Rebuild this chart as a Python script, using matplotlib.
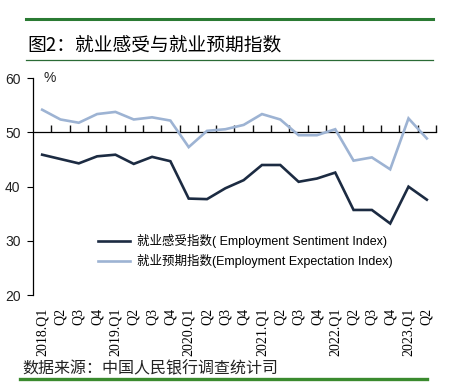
import matplotlib
matplotlib.use('Agg')
import matplotlib.pyplot as plt
from matplotlib.lines import Line2D
import numpy as np

plt.rcParams['font.family'] = ['Liberation Sans', 'Noto Sans CJK SC', 'DejaVu Sans']
plt.rcParams['axes.unicode_minus'] = False

# 数据
quarters = ['2018.Q1', 'Q2', 'Q3', 'Q4', '2019.Q1', 'Q2', 'Q3', 'Q4',
            '2020.Q1', 'Q2', 'Q3', 'Q4', '2021.Q1', 'Q2', 'Q3', 'Q4',
            '2022.Q1', 'Q2', 'Q3', 'Q4', '2023.Q1', 'Q2']
sentiment = [45.9, 45.1, 44.3, 45.6, 45.9, 44.2, 45.5, 44.7,
             37.8, 37.7, 39.7, 41.2, 44.0, 44.0, 40.9, 41.5,
             42.6, 35.7, 35.7, 33.2, 40.0, 37.6]
expectation = [54.2, 52.4, 51.8, 53.4, 53.8, 52.4, 52.8, 52.2,
               47.3, 50.3, 50.6, 51.4, 53.4, 52.4, 49.5, 49.5,
               50.6, 44.8, 45.4, 43.2, 52.6, 48.9]
yticks = [20, 30, 40, 50, 60]

label_s = '就业感受指数( Employment Sentiment Index)'
label_e = '就业预期指数(Employment Expectation Index)'

fig = plt.figure(figsize=(4.49, 3.82), dpi=100)
ax = fig.add_axes([0.0735, 0.2277, 0.8975, 0.5673])

x = np.arange(len(quarters))
ax.plot(x, sentiment, color='#1c2b42', lw=1.9, label=label_s, solid_joinstyle='miter')
ax.plot(x, expectation, color='#9db3d3', lw=1.9, label=label_e, solid_joinstyle='miter')

ax.set_xlim(-0.5, len(quarters) - 0.5)
ax.set_ylim(20, 60)
ax.set_yticks(yticks)
ax.tick_params(axis='y', direction='out', length=4, width=0.8, pad=5,
               labelsize=10, labelcolor='#222222')

ax.set_xticks(x)
ax.set_xticklabels(quarters, rotation=90, family='Liberation Serif', fontsize=10)
ax.tick_params(axis='x', length=0, pad=9)

for s in ['top', 'right', 'bottom']:
    ax.spines[s].set_visible(False)
ax.spines['left'].set_linewidth(0.9)

# 50 处的横轴, 刻度朝上
sec = ax.secondary_xaxis((50 - 20) / 40)
sec.set_xticks(np.arange(0.5, len(quarters), 1))
sec.xaxis.set_ticks_position('top')
sec.tick_params(axis='x', which='major', top=True, bottom=False, direction='out',
                length=5, width=1.0, color='#111111', labeltop=False, labelbottom=False)
sec.spines['top'].set_linewidth(0.9)

ax.text(0.042, 1.0, '%', transform=ax.transAxes, fontsize=10, va='center', ha='center',
        color='#222222')

ax.legend(loc='center left', bbox_to_anchor=(0.161, 0.2025), frameon=False,
          handlelength=2.6, handletextpad=0.5, borderpad=0,
          borderaxespad=0, labelspacing=0.5, prop={'size': 9})

# 标题与绿线
fig.text(0.06, 1 - 45 / 382, '图2：就业感受与就业预期指数', fontsize=13.5,
         family=['Noto Sans CJK SC'], va='center', ha='left')
fig.add_artist(Line2D([26 / 449, 433 / 449], [1 - 19 / 382] * 2, color='#2a7a33',
                      lw=2.2, transform=fig.transFigure))
fig.add_artist(Line2D([26 / 449, 433 / 449], [1 - 60 / 382] * 2, color='#2a6b35',
                      lw=0.9, transform=fig.transFigure))
fig.add_artist(Line2D([20 / 449, 427 / 449], [1 - 379 / 382] * 2, color='#3a8a2e',
                      lw=2.4, transform=fig.transFigure))

fig.text(22 / 449, 1 - 369 / 382, '数据来源：中国人民银行调查统计司', fontsize=11.5,
         family=['Noto Sans CJK SC'], va='center', ha='left', color='#222222')

fig.savefig('out.png', dpi=100)
